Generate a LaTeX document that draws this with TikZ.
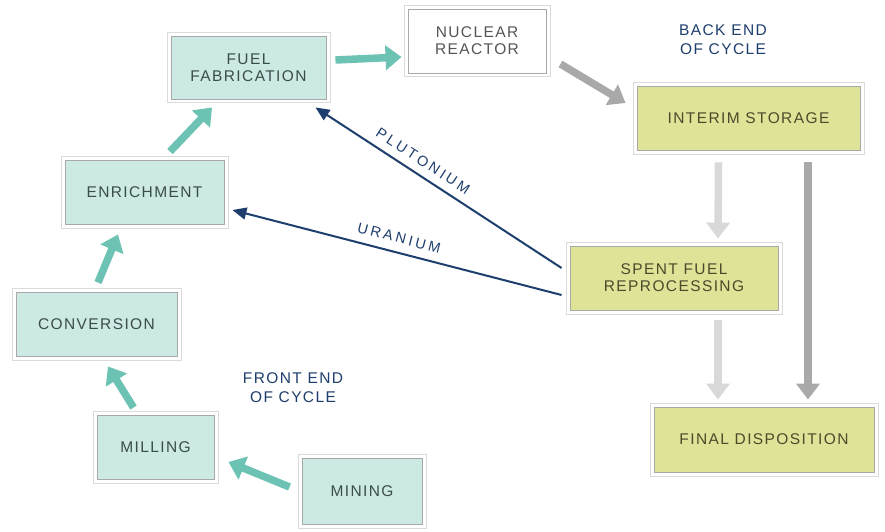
\documentclass[tikz,border=0pt]{standalone}
\usepackage{fontspec}
\setmainfont{Liberation Sans}[LetterSpace=9]
\newfontfamily\lblfont{Liberation Sans}[LetterSpace=20]
\usetikzlibrary{arrows.meta,calc}
\definecolor{tealfill}{HTML}{CDE9E4}
\definecolor{yelfill}{HTML}{DFE398}
\definecolor{innergrey}{HTML}{A8A8A8}
\definecolor{outergrey}{HTML}{DADADA}
\definecolor{tealtext}{HTML}{3B4D4B}
\definecolor{yeltext}{HTML}{4B4B2C}
\definecolor{greytext}{HTML}{555555}
\definecolor{navy}{HTML}{1E3F6E}
\definecolor{tealarr}{HTML}{6CC2B3}
\definecolor{greyarr}{HTML}{A9A9A9}
\definecolor{lgreyarr}{HTML}{D9D9D9}
\begin{document}
\begin{tikzpicture}[x=1pt,y=-1pt,
  boxbase/.style={draw=innergrey, line width=0.9pt, inner sep=0pt, align=center,
    font=\fontsize{15.5}{17}\selectfont},
  tealbox/.style={boxbase, fill=tealfill, text=tealtext},
  yelbox/.style={boxbase, fill=yelfill, text=yeltext},
  whitebox/.style={boxbase, fill=white, text=greytext},
  outerframe/.style={draw=outergrey, line width=0.9pt},
  tealarrow/.style={draw=tealarr, line width=7.5pt, -{Triangle[width=24pt,length=16pt]}},
  greyarrow/.style={draw=greyarr, line width=7.5pt, -{Triangle[width=23pt,length=16pt]}},
  lgreyarrow/.style={draw=lgreyarr, line width=7.5pt, -{Triangle[width=23pt,length=16pt]}},
  navyarrow/.style={draw=navy, line width=2pt, -{Triangle[width=12pt,length=14pt]}},
  flowlabel/.style={text=navy, font=\lblfont\fontsize{14.5}{16}\selectfont, inner sep=0pt},
  phaselabel/.style={text=navy, align=center, font=\fontsize{15.5}{19}\selectfont, inner sep=0pt}
]
\useasboundingbox (0,0) rectangle (885,532);
\fill[white] (0,0) rectangle (885,532);

\node[tealbox, minimum width=155pt, minimum height=63pt] (fab) at (248.5,67.5) {FUEL\\FABRICATION};
\node[whitebox, minimum width=138pt, minimum height=64pt] (reactor) at (477,41) {NUCLEAR\\REACTOR};
\node[yelbox, minimum width=223pt, minimum height=64pt] (interim) at (748.5,118) {INTERIM STORAGE};
\node[tealbox, minimum width=159pt, minimum height=64pt] (enrich) at (144.5,192) {ENRICHMENT};
\node[yelbox, minimum width=208pt, minimum height=64pt] (reproc) at (674,278) {SPENT FUEL\\REPROCESSING};
\node[tealbox, minimum width=161pt, minimum height=64pt] (conv) at (96.5,324) {CONVERSION};
\node[tealbox, minimum width=117pt, minimum height=64pt] (milling) at (155.5,447) {MILLING};
\node[tealbox, minimum width=120pt, minimum height=66pt] (mining) at (362,491) {MINING};
\node[yelbox, minimum width=220pt, minimum height=65pt] (final) at (764,439.5) {FINAL DISPOSITION};

\foreach \n in {fab,reactor,interim,enrich,reproc,conv,milling,mining,final}
  \draw[outerframe] ($(\n.north west)+(-3.5,-3.5)$) rectangle ($(\n.south east)+(3.5,3.5)$);

\node[phaselabel] (backend) at (723,40) {BACK END\\OF CYCLE};
\node[phaselabel] (frontend) at (293,388) {FRONT END\\OF CYCLE};

% teal front-end arrows
\draw[tealarrow] ($(mining.west)+(-12,-4)$) -- ($(milling.east)+(14,15)$);
\draw[tealarrow] ($(milling.north)+(-22,-7)$) -- ($(conv.south)+(11.5,10)$);
\draw[tealarrow] ($(conv.north)+(1.5,-9)$) -- ($(enrich.south)+(-26.5,10)$);
\draw[tealarrow] ($(enrich.north)+(25.5,-8)$) -- ($(fab.south)+(-36.5,8)$);
\draw[tealarrow] ($(fab.east)+(9,-7.5)$) -- ($(reactor.west)+(-6,16)$);

% grey back-end arrows
\draw[greyarrow] ($(reactor.east)+(14,23)$) -- ($(interim.west)+(-11,-15)$);
\draw[lgreyarrow] ($(interim.south)+(-30,12)$) -- ($(reproc.north)+(44,-7)$);
\draw[greyarrow] ($(interim.south)+(59.5,12)$) -- ($(final.north)+(44,-7)$);
\draw[lgreyarrow] ($(reproc.south)+(44,10)$) -- ($(final.north)+(-46,-7)$);

% recycle arrows
\draw[navyarrow] ($(reproc.west)+(-8,-10)$) -- ($(fab.south east)+(-11,8)$);
\draw[navyarrow] ($(reproc.west)+(-8,17)$) -- ($(enrich.east)+(8,18)$);
\node[flowlabel, rotate=-33] (plu) at (423,161) {PLUTONIUM};
\node[flowlabel, rotate=-14.4] (ura) at (399,238) {URANIUM};
\end{tikzpicture}
\end{document}
